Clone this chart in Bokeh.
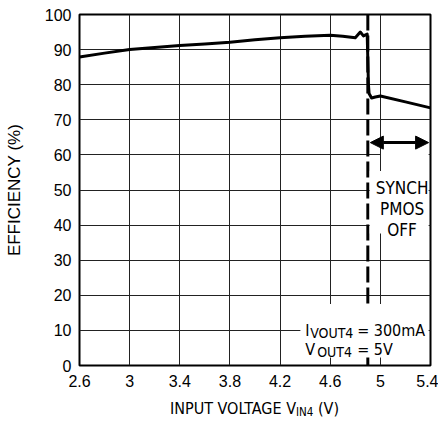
from bokeh.plotting import figure
from bokeh.models import Label, BoxAnnotation, Arrow, NormalHead, Span, FixedTicker, Range1d, Div
from bokeh.layouts import column
from bokeh.embed import file_html
from bokeh.resources import INLINE

# ---- data ----
vin = [2.6, 2.8, 3.0, 3.2, 3.4, 3.6, 3.8, 4.0, 4.2, 4.4, 4.6, 4.7, 4.8, 4.84, 4.865, 4.895,
       4.905, 4.91, 4.93, 4.96, 5.0, 5.2, 5.4]
eff = [87.9, 89.0, 90.0, 90.6, 91.2, 91.6, 92.1, 92.8, 93.4, 93.8, 94.1, 93.8, 93.4, 95.0, 93.9, 94.4,
       80.0, 77.5, 76.2, 76.5, 76.8, 75.1, 73.4]
x_ticks = [2.6, 3.0, 3.4, 3.8, 4.2, 4.6, 5.0, 5.4]
x_tick_labels = ["2.6", "3", "3.4", "3.8", "4.2", "4.6", "5", "5.4"]
y_ticks = [0, 10, 20, 30, 40, 50, 60, 70, 80, 90, 100]
pmos_off_vin = 4.9
arrow_level = 63.5

NARROW = "DejaVu Sans Condensed, Liberation Sans"
REG = "Liberation Sans"

p = figure(width=438, height=393, output_backend="svg", toolbar_location=None,
           x_range=Range1d(2.6, 5.4), y_range=Range1d(0, 100),
           min_border_left=79, min_border_right=8, min_border_top=14, min_border_bottom=28)
p.background_fill_color = "white"
p.border_fill_color = "white"
p.outline_line_color = "black"
p.outline_line_width = 2

p.xaxis.ticker = FixedTicker(ticks=x_ticks)
p.xaxis.major_label_overrides = {t: l for t, l in zip(x_ticks, x_tick_labels)}
p.yaxis.ticker = FixedTicker(ticks=y_ticks)
for ax in (p.xaxis, p.yaxis):
    ax.axis_line_color = None
    ax.major_tick_line_color = None
    ax.minor_tick_line_color = None
    ax.major_tick_out = 0
    ax.major_tick_in = 0
    ax.minor_tick_out = 0
    ax.minor_tick_in = 0
    ax.major_label_text_font = REG
    ax.major_label_text_font_size = "16px"
    ax.major_label_text_color = "black"
p.xaxis.major_label_standoff = 9
p.yaxis.major_label_standoff = 8
p.yaxis.axis_label = "EFFICIENCY (%)"
p.yaxis.axis_label_text_font = REG
p.yaxis.axis_label_text_font_size = "17px"
p.yaxis.axis_label_text_font_style = "normal"
p.yaxis.axis_label_text_color = "black"
p.yaxis.axis_label_standoff = 18

p.grid.grid_line_color = "#222222"
p.grid.grid_line_width = 1

p.line(vin, eff, line_width=3, color="black", line_join="round")

p.add_layout(Span(location=pmos_off_vin, dimension="height", line_color="black",
                  line_width=3, line_dash="16 5"))

# white backgrounds of the annotations
p.add_layout(BoxAnnotation(left=4.362, right=5.385, bottom=2.3, top=17.5,
                           fill_color="white", fill_alpha=1, line_alpha=0))
p.add_layout(BoxAnnotation(left=4.915, right=5.385, bottom=37.6, top=55.4,
                           fill_color="white", fill_alpha=1, line_alpha=0))
p.add_layout(BoxAnnotation(left=5.005, right=5.385, bottom=59.3, top=60.7,
                           fill_color="white", fill_alpha=1, line_alpha=0))

p.add_layout(Arrow(x_start=4.92, y_start=arrow_level, x_end=5.385, y_end=arrow_level,
                   line_width=3, line_color="black",
                   start=NormalHead(size=13, fill_color="black", line_color="black"),
                   end=NormalHead(size=13, fill_color="black", line_color="black")))

def lab(x, y, text, size, align="left", font=NARROW, xo=0, yo=0):
    p.add_layout(Label(x=x, y=y, text=text, text_font=font, text_font_size=size,
                       text_align=align, text_baseline="alphabetic", text_color="black",
                       x_offset=xo, y_offset=yo))

for yy, t in zip([50.6, 44.7, 38.6], ["SYNCH", "PMOS", "OFF"]):
    lab(5.173, yy, t, "17px", align="center")

# I_VOUT4 = 300mA / V_OUT4 = 5V
lab(4.40, 10.0, "I", "16px")
lab(4.40, 10.0, "VOUT4", "14px", xo=5, yo=-2.5)
lab(4.40, 10.0, "= 300mA", "16px", xo=52)
lab(4.40, 4.5, "V", "16px")
lab(4.40, 4.5, "OUT4", "14px", xo=12, yo=-2.5)
lab(4.40, 4.5, "= 5V", "16px", xo=52)

# x axis title with subscript (HTML so that the subscript is real text)
xtitle = Div(
    text=('<div style="width: 351px; font-family: \'DejaVu Sans Condensed\', \'Liberation Sans\'; '
          'font-size: 16px; line-height: 20px; text-align: center; color: black; white-space: nowrap;">'
          'INPUT VOLTAGE V<span style="font-size: 11.5px; position: relative; top: 2px;">IN4</span> (V)</div>'),
    width=351, height=24, margin=(6, 0, 0, 79))

open("out.html", "w").write(file_html(column(p, xtitle), INLINE))
